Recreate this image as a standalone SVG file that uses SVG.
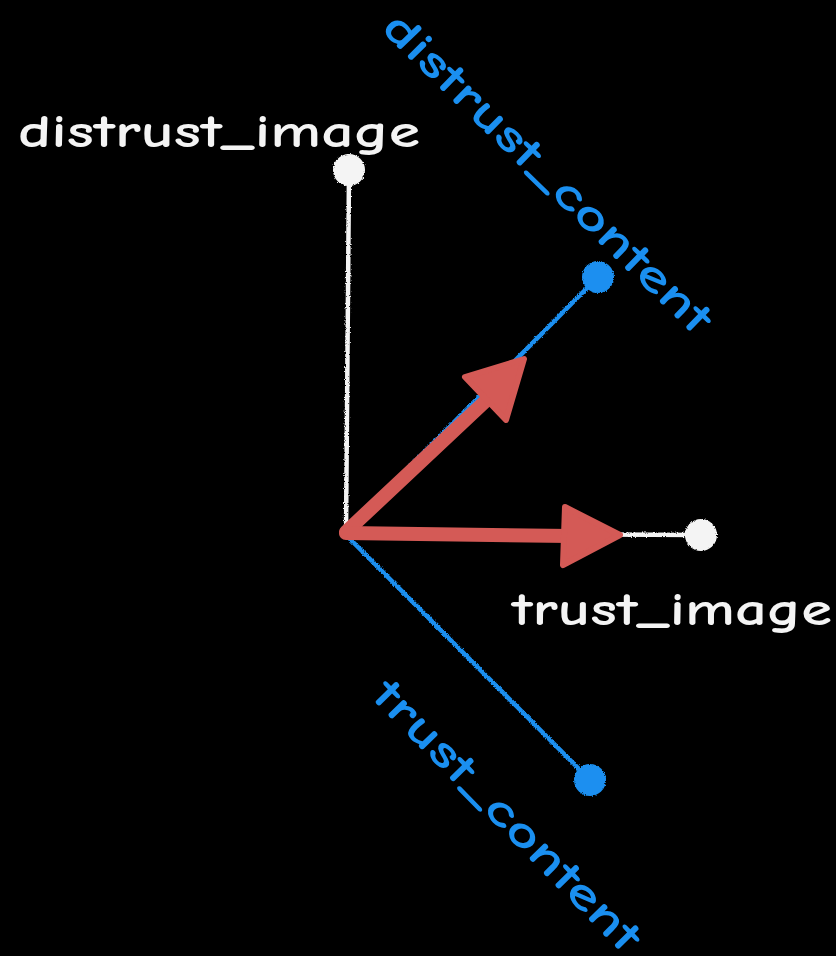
<svg xmlns="http://www.w3.org/2000/svg" width="836" height="956" viewBox="0 0 836 956">
<defs>
<filter id="chalk" x="-10%" y="-10%" width="120%" height="120%">
<feTurbulence type="fractalNoise" baseFrequency="0.9" numOctaves="2" seed="3" result="n"/>
<feDisplacementMap in="SourceGraphic" in2="n" scale="3" xChannelSelector="R" yChannelSelector="G"/>
</filter>
</defs>
<style>
.w{stroke:#f4f4f4;fill:none;stroke-width:4.5;stroke-linecap:round}
.b{stroke:#1a8ff0;fill:none;stroke-width:4.5;stroke-linecap:round}
.wd{fill:#f4f4f4}
.bd{fill:#1a8ff0}
.red{fill:#d45a56;stroke:#d45a56;stroke-linejoin:round;stroke-width:6}
.shaft{stroke:#d45a56;stroke-width:14;stroke-linecap:round;fill:none}
.lbl{font-family:"Comic Neue","Liberation Sans",sans-serif;font-size:46px;font-weight:bold}
.lw{fill:#f4f4f4}
.lb{fill:#1a8ff0}
</style>
<rect width="836" height="956" fill="#000"/>
<g id="connectors" filter="url(#chalk)">
<line class="w" x1="349" y1="172" x2="346" y2="533"/>
<line class="w" x1="344" y1="533" x2="699" y2="535"/>
<line class="b" x1="344" y1="533" x2="596" y2="279"/>
<line class="b" x1="344" y1="533" x2="588" y2="778"/>
</g>
<g id="distrust_image">
<circle class="wd" cx="349" cy="170" r="16" filter="url(#chalk)"/>
<text class="lbl lw" x="18" y="147" textLength="402" lengthAdjust="spacingAndGlyphs">distrust_image</text>
</g>
<g id="trust_image">
<circle class="wd" cx="701" cy="535" r="16" filter="url(#chalk)"/>
<text class="lbl lw" x="512" y="625" textLength="320" lengthAdjust="spacingAndGlyphs">trust_image</text>
</g>
<g id="distrust_content">
<circle class="bd" cx="598" cy="277" r="16" filter="url(#chalk)"/>
<text class="lbl lb" x="0" y="0" transform="translate(380,30) rotate(44.2)" textLength="440" lengthAdjust="spacingAndGlyphs">distrust_content</text>
</g>
<g id="trust_content">
<circle class="bd" cx="590" cy="780" r="16" filter="url(#chalk)"/>
<text class="lbl lb" x="0" y="0" transform="translate(370,697) rotate(45.5)" textLength="362" lengthAdjust="spacingAndGlyphs">trust_content</text>
</g>
<g id="vectors">
<line class="shaft" x1="346" y1="532" x2="492" y2="395"/>
<polygon class="red" points="465,377 524,359 506,420"/>
<line class="shaft" x1="346" y1="533" x2="570" y2="536"/>
<polygon class="red" points="565,507 620,535 563,565"/>
</g>
</svg>
